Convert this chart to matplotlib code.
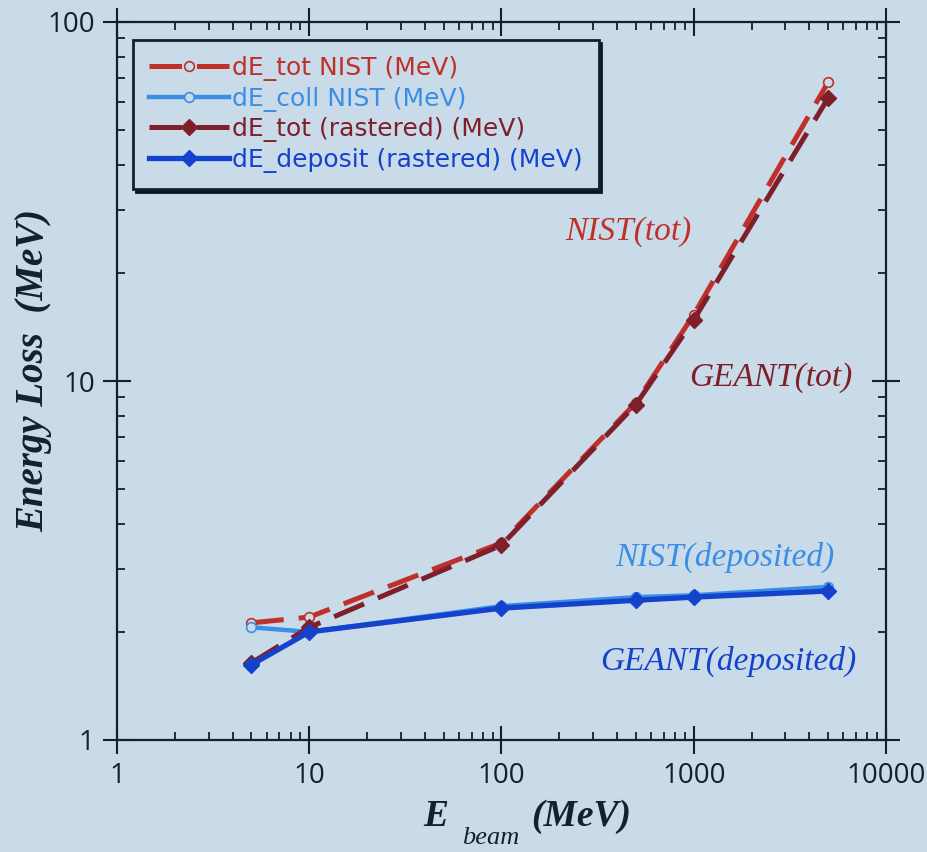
import numpy as np
import matplotlib
matplotlib.use("Agg")
import matplotlib.pyplot as plt
from matplotlib.ticker import LogLocator, NullFormatter, FixedLocator, FixedFormatter

# Beam energies (MeV)
e_beam = [5, 10, 100, 500, 1000, 5000]

# Energy loss series (MeV)
de_tot_nist = [2.12, 2.20, 3.54, 8.7, 15.3, 68.0]
de_coll_nist = [2.06, 2.00, 2.36, 2.50, 2.53, 2.67]
de_tot_rast = [1.64, 2.06, 3.49, 8.6, 14.8, 61.4]
de_dep_rast = [1.62, 2.00, 2.33, 2.45, 2.50, 2.60]

bg = '#c9dbe8'
ink = '#14202c'
c_tot_nist = '#c0302a'
c_coll_nist = '#3a8ee6'
c_tot_rast = '#7e1f2a'
c_dep_rast = '#1442cc'

fig = plt.figure(figsize=(9.28, 8.52), dpi=100, facecolor=bg)
ax = fig.add_axes([117 / 928, 1 - 740 / 852, (886 - 117) / 928, (740 - 22) / 852])
ax.set_facecolor(bg)

dash = (0, (6.5, 3))
ax.plot(e_beam, de_tot_nist, color=c_tot_nist, lw=3.6, ls=dash, marker='o', ms=7,
        mfc=bg, mec=c_tot_nist, mew=1.2, label='dE_tot NIST (MeV)', zorder=3)
ax.plot(e_beam, de_coll_nist, color=c_coll_nist, lw=3.2, marker='o', ms=7,
        mfc=bg, mec=c_coll_nist, mew=1.2, label='dE_coll NIST (MeV)', zorder=3)
ax.plot(e_beam, de_tot_rast, color=c_tot_rast, lw=3.6, ls=dash, marker='D', ms=8,
        mfc=c_tot_rast, mec=c_tot_rast, label='dE_tot (rastered) (MeV)', zorder=4)
ax.plot(e_beam, de_dep_rast, color=c_dep_rast, lw=3.8, marker='D', ms=8,
        mfc=c_dep_rast, mec=c_dep_rast, label='dE_deposit (rastered) (MeV)', zorder=4)

ax.set_xscale('log')
ax.set_yscale('log')
ax.set_xlim(1, 10000)
ax.set_ylim(1, 100)

for s in ax.spines.values():
    s.set_color(ink)
    s.set_linewidth(1.6)

ax.xaxis.set_major_locator(FixedLocator([1, 10, 100, 1000, 10000]))
ax.xaxis.set_major_formatter(FixedFormatter(['1', '10', '100', '1000', '10000']))
ax.yaxis.set_major_locator(FixedLocator([1, 10, 100]))
ax.yaxis.set_major_formatter(FixedFormatter(['1', '10', '100']))
ax.xaxis.set_minor_locator(LogLocator(base=10, subs=np.arange(2, 10)))
ax.yaxis.set_minor_locator(LogLocator(base=10, subs=np.arange(2, 10)))
ax.xaxis.set_minor_formatter(NullFormatter())
ax.yaxis.set_minor_formatter(NullFormatter())

ax.tick_params(which='major', direction='inout', length=20, width=1.5, color=ink,
               top=True, right=True, labelsize=20, labelcolor=ink, pad=6)
ax.tick_params(which='minor', direction='in', length=6, width=1.3, color=ink,
               top=True, right=True)
for lab in ax.get_xticklabels() + ax.get_yticklabels():
    lab.set_family('Open Sans')

leg = ax.legend(loc='upper left', bbox_to_anchor=(0.0208, 0.975), borderaxespad=0,
                prop={'family': 'DejaVu Sans', 'size': 18},
                handlelength=3.2, handletextpad=0.1, labelspacing=0.22,
                borderpad=0.65, fancybox=False, shadow={'color': '#0b1620', 'alpha': 1},
                facecolor=bg, edgecolor=ink, framealpha=1)
leg.get_frame().set_linewidth(2)
for txt, col in zip(leg.get_texts(), [c_tot_nist, c_coll_nist, c_tot_rast, c_dep_rast]):
    txt.set_color(col)

serif = 'Liberation Serif'
ax.text(0.665, 0.7075, 'NIST(tot)', transform=ax.transAxes, ha='center', va='center',
        family=serif, style='italic', size=24, color=c_tot_nist)
ax.text(0.85, 0.505, 'GEANT(tot)', transform=ax.transAxes, ha='center', va='center',
        family=serif, style='italic', size=24, color=c_tot_rast)
ax.text(0.79, 0.254, 'NIST(deposited)', transform=ax.transAxes, ha='center', va='center',
        family=serif, style='italic', size=24, color=c_coll_nist)
ax.text(0.795, 0.11, 'GEANT(deposited)', transform=ax.transAxes, ha='center', va='center',
        family=serif, style='italic', size=24, color=c_dep_rast)

fig.text(34 / 928, 1 - 370 / 852, 'Energy Loss  (MeV)', rotation=90, ha='center',
         va='center', family=serif, style='italic', weight='bold', size=28, color=ink)

fig.text(436 / 928, 1 - 817 / 852, 'E', ha='center', va='center', family=serif,
         style='italic', weight='bold', size=27, color=ink)
fig.text(491 / 928, 1 - 838 / 852, 'beam', ha='center', va='center', family=serif,
         style='italic', size=19, color=ink)
fig.text(581 / 928, 1 - 817 / 852, '(MeV)', ha='center', va='center', family=serif,
         style='italic', weight='bold', size=27, color=ink)

fig.savefig('out.png', dpi=100, facecolor=bg)
